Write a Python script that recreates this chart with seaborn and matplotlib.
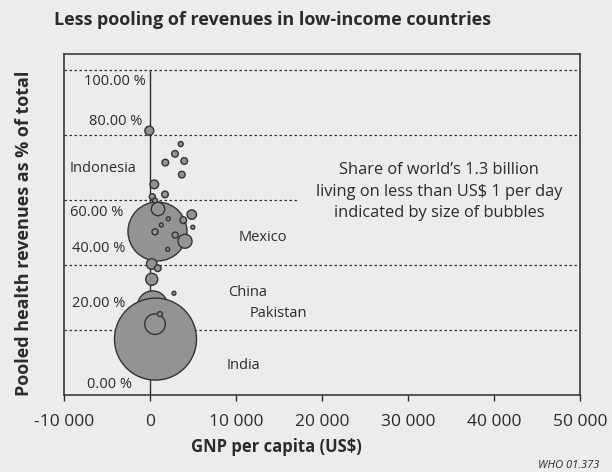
import matplotlib
matplotlib.use("Agg")
import matplotlib.pyplot as plt
import seaborn as sns
import pandas as pd

# GNP per capita (US$), pooled share (%), share of world's poor (%) -- drawing order
gnp = [300, 640, 580, 1160, 870,
       -80, 3570, 2910, 1780, 3980, 3700, 500, 1740, 270, 580,
       930, 4860, 3870, 2130, 1310, 4980, 580, 2930, 4070, 2060,
       200, 900, 200, 2790]
pooled = [27.4, 17.2, 21.8, 24.9, 50.3,
          81.3, 77.2, 74.2, 71.5, 72.0, 67.8, 64.8, 61.7, 61.0, 59.8,
          57.2, 55.5, 53.8, 54.2, 52.3, 51.6, 50.2, 49.2, 47.3, 44.8,
          40.3, 39.0, 35.6, 31.3]
poor_share = [4.7, 35, 2.2, 0.13, 18.1,
              0.42, 0.13, 0.23, 0.23, 0.23, 0.23, 0.39, 0.23, 0.19, 0.13,
              0.93, 0.46, 0.23, 0.08, 0.08, 0.08, 0.19, 0.19, 1.02, 0.08,
              0.58, 0.23, 0.75, 0.08]

xticks = [-10000, 0, 10000, 20000, 30000, 40000, 50000]
xtick_labels = ["-10 000", "0", "10 000", "20 000", "30 000", "40 000", "50 000"]
grid_levels = [20, 40, 60, 80, 100]

# inner "axis" labels as printed, and country labels
pct_labels = ["100.00 %", "80.00 %", "60.00 %", "40.00 %", "20.00 %", "0.00 %"]
pct_pos = [(-465, 96.3), (-930, 84.0), (-3140, 56.0), (-2910, 45.2), (-2910, 28.0), (-2090, 3.1)]
countries = ["Indonesia", "Mexico", "China", "Pakistan", "India"]
country_pos = [(-9300, 69.8), (10350, 48.3), (9070, 31.4), (11630, 25.2), (8960, 9.2)]

bg = "#ececec"
ink = "#2b2b2b"

sns.set_theme(style="white")
plt.rcParams["font.family"] = ["Open Sans", "DejaVu Sans"]
plt.rcParams["text.color"] = ink
plt.rcParams["xtick.color"] = ink

df = pd.DataFrame({"gnp": gnp, "pooled": pooled, "share": poor_share})

fig = plt.figure(figsize=(6.12, 4.72), dpi=100, facecolor=bg)
ax = fig.add_axes([64 / 612, 77 / 472, 516 / 612, 341 / 472], facecolor=bg)

for lv in grid_levels:
    ax.axhline(lv, color="#333333", lw=0.9, ls=(0, (2, 2)), zorder=1)
ax.plot([0, 0], [0, 100], color=ink, lw=1.0, zorder=2)

sns.scatterplot(data=df, x="gnp", y="pooled", size="share",
                sizes=(0, 3486), size_norm=(0, 35), legend=False,
                color="#939393", edgecolor="#333333", linewidth=1.0,
                alpha=1, ax=ax, zorder=3)

ax.set_xlim(-10000, 50000)
ax.set_ylim(0, 104.9)
ax.set_xticks(xticks)
ax.set_xticklabels(xtick_labels, fontsize=12.5)
ax.set_yticks([])
ax.tick_params(axis="x", direction="out", length=4, width=1, color=ink, pad=10, bottom=True)
ax.set_xlabel("")
ax.set_ylabel("")
for s in ax.spines.values():
    s.set_color(ink)
    s.set_linewidth(1.1)
    s.set_zorder(6)

for lab, (x, y) in zip(pct_labels, pct_pos):
    ax.text(x, y, lab, ha="right", va="center", fontsize=10.5, zorder=4)
for lab, (x, y) in zip(countries, country_pos):
    ax.text(x, y, lab, ha="left", va="center", fontsize=10.5, zorder=4)

ax.text(33610, 62.5,
        "Share of world\u2019s 1.3 billion\nliving on less than US$ 1 per day\nindicated by size of bubbles",
        ha="center", va="center", fontsize=11.8, linespacing=1.45, zorder=5,
        bbox=dict(boxstyle="square,pad=1.1", fc=bg, ec="none"))

fig.text(273 / 612, 1 - 20 / 472, "Less pooling of revenues in low-income countries",
         ha="center", va="center", fontsize=13, fontweight="bold")
fig.text(276 / 612, 1 - 447 / 472, "GNP per capita (US$)",
         ha="center", va="center", fontsize=12, fontweight="bold")
fig.text(24 / 612, 1 - 233 / 472, "Pooled health revenues as % of total",
         ha="center", va="center", rotation=90, fontsize=13, fontweight="bold")
fig.text(538 / 612, 1 - 465 / 472, "WHO 01.373", ha="left", va="center",
         fontsize=8, style="italic")

fig.savefig("out.png", dpi=100, facecolor=bg)
